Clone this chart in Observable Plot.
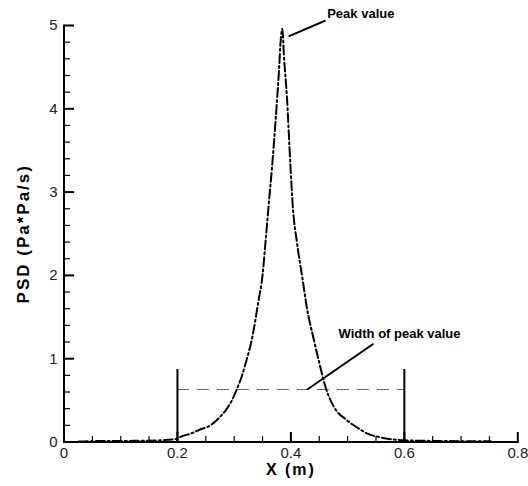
<!DOCTYPE html>
<html>
<head>
<meta charset="utf-8">
<script src="https://cdn.jsdelivr.net/npm/d3@7"></script>
<script src="https://cdn.jsdelivr.net/npm/@observablehq/plot@0.6"></script>
<style>
  html, body { margin: 0; padding: 0; background: #fff; overflow: hidden; }
  #chart svg { font-family: "Liberation Sans", Arial, sans-serif; }
  .axis-title { letter-spacing: 2px; }
</style>
</head>
<body>
<div id="chart"></div>
<script>
// PSD distribution along X
const psdX = [0.026, 0.05, 0.08, 0.11, 0.14, 0.17, 0.19, 0.2, 0.205, 0.223, 0.24, 0.258, 0.272, 0.285, 0.296, 0.305, 0.313, 0.32, 0.332, 0.343, 0.35, 0.355, 0.361, 0.367, 0.373, 0.379, 0.382, 0.385, 0.3875, 0.393, 0.399, 0.403, 0.411, 0.42, 0.429, 0.438, 0.449, 0.461, 0.476, 0.499, 0.52, 0.535, 0.555, 0.57, 0.6, 0.63, 0.66, 0.7, 0.752];
const psdY = [0.005, 0.01, 0.012, 0.013, 0.015, 0.02, 0.03, 0.04, 0.06, 0.1, 0.15, 0.2, 0.28, 0.38, 0.5, 0.64, 0.78, 0.94, 1.26, 1.7, 2.0, 2.38, 2.86, 3.32, 3.86, 4.46, 4.82, 4.96, 4.66, 4.14, 3.34, 2.86, 2.38, 1.98, 1.58, 1.3, 0.98, 0.66, 0.42, 0.26, 0.16, 0.1, 0.06, 0.04, 0.02, 0.015, 0.012, 0.01, 0.008];

// Width-of-peak markers
const bandEdges = [0.2, 0.6];
const bandMarkerHeight = 0.87;
const halfLevel = 0.63;

// Annotations and their leader lines
const noteText = ["Peak value", "Width of peak value"];
const noteX = [0.464, 0.484];
const noteY = [5.14, 1.30];
const leaderX1 = [0.396, 0.4288];
const leaderY1 = [4.87, 0.63];
const leaderX2 = [0.461, 0.5457];
const leaderY2 = [5.06, 1.18];

// Axes
const xDomain = [0, 0.8];
const yDomain = [0, 5];
const xTickValues = [0, 0.2, 0.4, 0.6, 0.8];
const xTickLabels = ["0", "0.2", "0.4", "0.6", "0.8"];
const xMinor = [0.05, 0.1, 0.15, 0.25, 0.3, 0.35, 0.45, 0.5, 0.55, 0.65, 0.7, 0.75];
const yTickValues = [0, 1, 2, 3, 4, 5];
const yTickLabels = ["0", "1", "2", "3", "4", "5"];
const yMinor = [0.2, 0.4, 0.6, 0.8, 1.2, 1.4, 1.6, 1.8, 2.2, 2.4, 2.6, 2.8, 3.2, 3.4, 3.6, 3.8, 4.2, 4.4, 4.6, 4.8];
const xTitle = "X (m)";
const yTitle = "PSD (Pa*Pa/s)";

const curve = psdX.map((x, i) => ({x, y: psdY[i]}));
const notes = noteText.map((t, i) => ({t, x: noteX[i], y: noteY[i]}));
const leaders = leaderX1.map((x1, i) => ({x1, y1: leaderY1[i], x2: leaderX2[i], y2: leaderY2[i]}));

// frame geometry
const W = 528, H = 486;
const mL = 63.5, mR = 10.7, mT = 25, mB = 44.5;
const frameW = W - mL - mR, frameH = H - mT - mB;
// inward tick lengths (px) expressed along each axis' domain
const xPerPx = (xDomain[1] - xDomain[0]) / frameW;
const yPerPx = (yDomain[1] - yDomain[0]) / frameH;
const majorLen = 10, minorLen = 6;

// axis lines and tick segments as links
const axisLines = [
  {x1: xDomain[0], y1: yDomain[0], x2: xDomain[0], y2: yDomain[1]},
  {x1: xDomain[0], y1: yDomain[0], x2: xDomain[1], y2: yDomain[0]}
];
const ySeg = (v, len) => ({x1: xDomain[0], y1: v, x2: xDomain[0] + len * xPerPx, y2: v});
const xSeg = (v, len) => ({x1: v, y1: yDomain[0], x2: v, y2: yDomain[0] + len * yPerPx});
const majorTicks = [...yTickValues.map(v => ySeg(v, majorLen)), ...xTickValues.slice(1).map(v => xSeg(v, majorLen))];
const minorTicks = [...yMinor.map(v => ySeg(v, minorLen)), ...xMinor.map(v => xSeg(v, minorLen))];

const chart = Plot.plot({
  width: W,
  height: H,
  marginLeft: mL,
  marginRight: mR,
  marginTop: mT,
  marginBottom: mB,
  x: {domain: xDomain, axis: null},
  y: {domain: yDomain, axis: null},
  marks: [
    // width-of-peak dashed level and edge markers
    Plot.ruleY([halfLevel], {x1: bandEdges[0], x2: bandEdges[1], stroke: "#666", strokeWidth: 1.2, strokeDasharray: "12,8"}),
    Plot.ruleX(bandEdges, {y1: 0, y2: bandMarkerHeight, stroke: "#000", strokeWidth: 2}),
    // PSD curve
    Plot.line(curve, {x: "x", y: "y", stroke: "#000", strokeWidth: 2, strokeDasharray: "9,3,2,3", curve: "monotone-x"}),
    // axes: lines and inward ticks
    Plot.link(axisLines, {x1: "x1", y1: "y1", x2: "x2", y2: "y2", stroke: "#000", strokeWidth: 2, strokeLinecap: "square"}),
    Plot.link(majorTicks, {x1: "x1", y1: "y1", x2: "x2", y2: "y2", stroke: "#000", strokeWidth: 2, strokeLinecap: "butt"}),
    Plot.link(minorTicks, {x1: "x1", y1: "y1", x2: "x2", y2: "y2", stroke: "#000", strokeWidth: 1.2, strokeLinecap: "butt"}),
    // tick labels
    Plot.text(yTickValues, {x: xDomain[0], y: d => d, text: (d, i) => yTickLabels[i], textAnchor: "end", dx: -6.5, fontSize: 15, fill: "#222"}),
    Plot.text(xTickValues, {x: d => d, y: yDomain[0], text: (d, i) => xTickLabels[i], dy: 11, fontSize: 15, fill: "#222"}),
    // axis titles
    Plot.text([xTitle], {x: (xDomain[0] + xDomain[1]) / 2, y: yDomain[0], text: d => d, dy: 27.5, fontSize: 16, fontWeight: "bold", className: "axis-title"}),
    Plot.text([yTitle], {x: xDomain[0], y: (yDomain[0] + yDomain[1]) / 2, text: d => d, dx: -40, rotate: -90, fontSize: 17, fontWeight: "bold", className: "axis-title"}),
    // annotations
    Plot.link(leaders, {x1: "x1", y1: "y1", x2: "x2", y2: "y2", stroke: "#000", strokeWidth: 2}),
    Plot.text(notes, {x: "x", y: "y", text: "t", textAnchor: "start", fontSize: 13, fontWeight: "bold"})
  ]
});

document.getElementById("chart").append(chart);
</script>
</body>
</html>
